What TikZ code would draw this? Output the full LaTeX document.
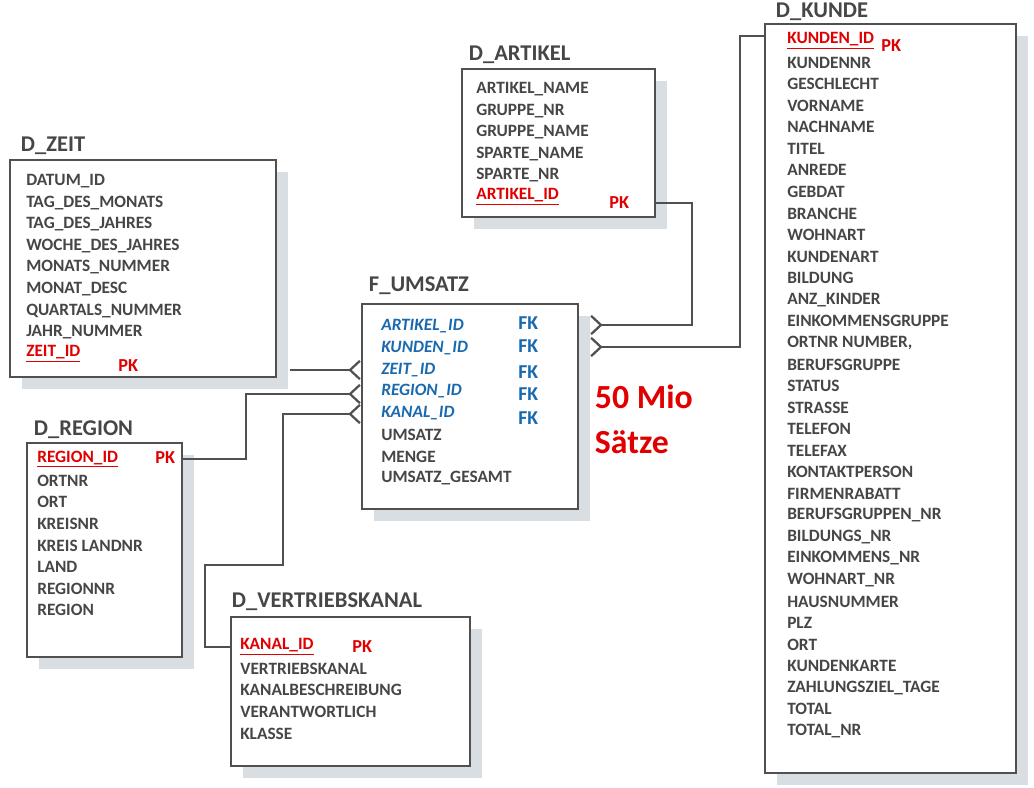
\documentclass[tikz,border=0pt]{standalone}
\usepackage{fontspec}
\setmainfont{Carlito}
\usetikzlibrary{arrows.meta, fit}
\definecolor{erdgray}{RGB}{80, 80, 80}
\definecolor{erdtext}{RGB}{70, 70, 70}
\definecolor{erdred}{RGB}{225, 0, 0}
\definecolor{erdblue}{RGB}{25, 105, 175}
\definecolor{erdshadow}{RGB}{216, 222, 225}
\tikzstyle{box} = [draw=erdgray, line width=1.4pt, fill=white, inner sep=0pt]
\tikzstyle{title} = [anchor=west, text=erdtext, font=\fontsize{16}{18}\selectfont\bfseries]
\tikzstyle{row} = [anchor=west, text=erdtext, font=\fontsize{12.3}{14}\selectfont\bfseries, inner sep=0pt]
\tikzstyle{pk} = [row, text=erdred]
\tikzstyle{pklabel} = [row, text=erdred, font=\fontsize{13}{14}\selectfont\bfseries]
\tikzstyle{fk} = [row, text=erdblue, font=\fontsize{12.3}{14}\selectfont\bfseries\itshape]
\tikzstyle{link} = [draw=erdgray, line width=1.6pt, -{Straight Barb[reversed, length=7pt, width=13pt, line width=1.6pt]}]

\begin{document}
\begin{tikzpicture}[x=0.025cm, y=-0.025cm]
        \useasboundingbox (0,0) rectangle (1034,788);
        % Shadows
        \foreach \xa/\ya/\xb/\yb in {10/160/276/377, 462/69/655/217, 765/24/1016/773,
            362/304/578/509, 27/443/182/657, 231/617/470/766}
            \fill[erdshadow] ({\xa+12},{\ya+12}) rectangle ({\xb+12},{\yb+12});

        % Tables
        \node[box, fit={(10,160) (276,377)}] (zeit) {};
        \node[box, fit={(462,69) (655,217)}] (artikel) {};
        \node[box, fit={(765,24) (1016,773)}] (kunde) {};
        \node[box, fit={(362,304) (578,509)}] (umsatz) {};
        \node[box, fit={(27,443) (182,657)}] (region) {};
        \node[box, fit={(231,617) (470,766)}] (kanal) {};

        % Titles
        \node[title] (tzeit) at (16,146) {D\_ZEIT};
        \node[title] (tartikel) at (464,55) {D\_ARTIKEL};
        \node[title] (tkunde) at (771,12) {D\_KUNDE};
        \node[title] (tumsatz) at (364,286) {F\_UMSATZ};
        \node[title] (tregion) at (29,430) {D\_REGION};
        \node[title] (tkanal) at (227,602) {D\_VERTRIEBSKANAL};

        % D_ZEIT
        \foreach \t [count=\i from 0] in {DATUM\_ID, TAG\_DES\_MONATS, TAG\_DES\_JAHRES,
            WOCHE\_DES\_JAHRES, MONATS\_NUMMER, MONAT\_DESC, QUARTALS\_NUMMER, JAHR\_NUMMER}
            \node[row] (zeit-\i) at ({26},{181+\i*21.6}) {\t};
        \node[pk] (zeit-pk) at (26,354) {\underline{ZEIT\_ID}};
        \node[pklabel] (zeit-pkl) at (118,366) {PK};

        % D_ARTIKEL
        \foreach \t [count=\i from 0] in {ARTIKEL\_NAME, GRUPPE\_NR, GRUPPE\_NAME, SPARTE\_NAME, SPARTE\_NR}
            \node[row] (artikel-\i) at ({476},{89+\i*21.6}) {\t};
        \node[pk] (artikel-pk) at (476,197) {\underline{ARTIKEL\_ID}};
        \node[pklabel] (artikel-pkl) at (609,203) {PK};

        % D_KUNDE
        \node[pk] (kunde-pk) at (787,41) {\underline{KUNDEN\_ID}};
        \node[pklabel] (kunde-pkl) at (881,46) {PK};
        \foreach \t [count=\i] in {KUNDENNR, GESCHLECHT, VORNAME, NACHNAME, TITEL, ANREDE,
            GEBDAT, BRANCHE, WOHNART, KUNDENART, BILDUNG, ANZ\_KINDER, EINKOMMENSGRUPPE,
            {ORTNR NUMBER,}, BERUFSGRUPPE, STATUS, STRASSE, TELEFON, TELEFAX, KONTAKTPERSON,
            FIRMENRABATT, BERUFSGRUPPEN\_NR, BILDUNGS\_NR, EINKOMMENS\_NR, WOHNART\_NR,
            HAUSNUMMER, PLZ, ORT, KUNDENKARTE, ZAHLUNGSZIEL\_TAGE, TOTAL, TOTAL\_NR}
            \node[row] (kunde-\i) at ({787},{41+\i*21.56}) {\t};

        % F_UMSATZ
        \foreach \t/\y [count=\i from 0] in {ARTIKEL\_ID/326, KUNDEN\_ID/348, ZEIT\_ID/370,
            REGION\_ID/391, KANAL\_ID/413}
            \node[fk] (umsatz-\i) at (381,\y) {\t};
        \foreach \y [count=\i from 0] in {323, 346, 372, 394, 418}
            \node[fk, font=\fontsize{14}{16}\selectfont\bfseries] (umsatz-fk\i) at (518,\y) {FK};
        \foreach \t [count=\i from 0] in {UMSATZ, MENGE, UMSATZ\_GESAMT}
            \node[row] (umsatz-r\i) at ({381},{435+\i*21.5}) {\t};
        \node[anchor=west, text=erdred, font=\fontsize{24}{32}\selectfont\bfseries, align=left] (menge) at (590,419) {50 Mio\\Sätze};

        % D_REGION
        \node[pk] (region-pk) at (37,459) {\underline{REGION\_ID}};
        \node[pklabel] (region-pkl) at (155,458) {PK};
        \foreach \t [count=\i] in {ORTNR, ORT, KREISNR, KREIS LANDNR, LAND, REGIONNR, REGION}
            \node[row] (region-\i) at ({37},{459+\i*21.6}) {\t};

        % D_VERTRIEBSKANAL
        \node[pk] (kanal-pk) at (240,647) {\underline{KANAL\_ID}};
        \node[pklabel] (kanal-pkl) at (352,647) {PK};
        \foreach \t [count=\i] in {VERTRIEBSKANAL, KANALBESCHREIBUNG, VERANTWORTLICH, KLASSE}
            \node[row] (kanal-\i) at ({240},{647+\i*21.6}) {\t};

        % Connections
        \coordinate (cz) at (290,370);
        \draw[link] (cz) -- (umsatz.west |- cz);
        \draw[link] (region.east |- region-pk) -| (246,394) -- (umsatz.west |- 0,394);
        \draw[link] (kanal.west |- kanal-pk) -| (205,565) -| (283,414) -- (umsatz.west |- 0,414);
        \coordinate (ca) at (590,325);
        \coordinate (ck) at (590,347);
        \draw[link] (artikel.east |- 0,203) -| (692,325) -- (ca);
        \draw[link] (kunde.west |- 0,36) -| (740,347) -- (ck);
    \end{tikzpicture}
\end{document}
